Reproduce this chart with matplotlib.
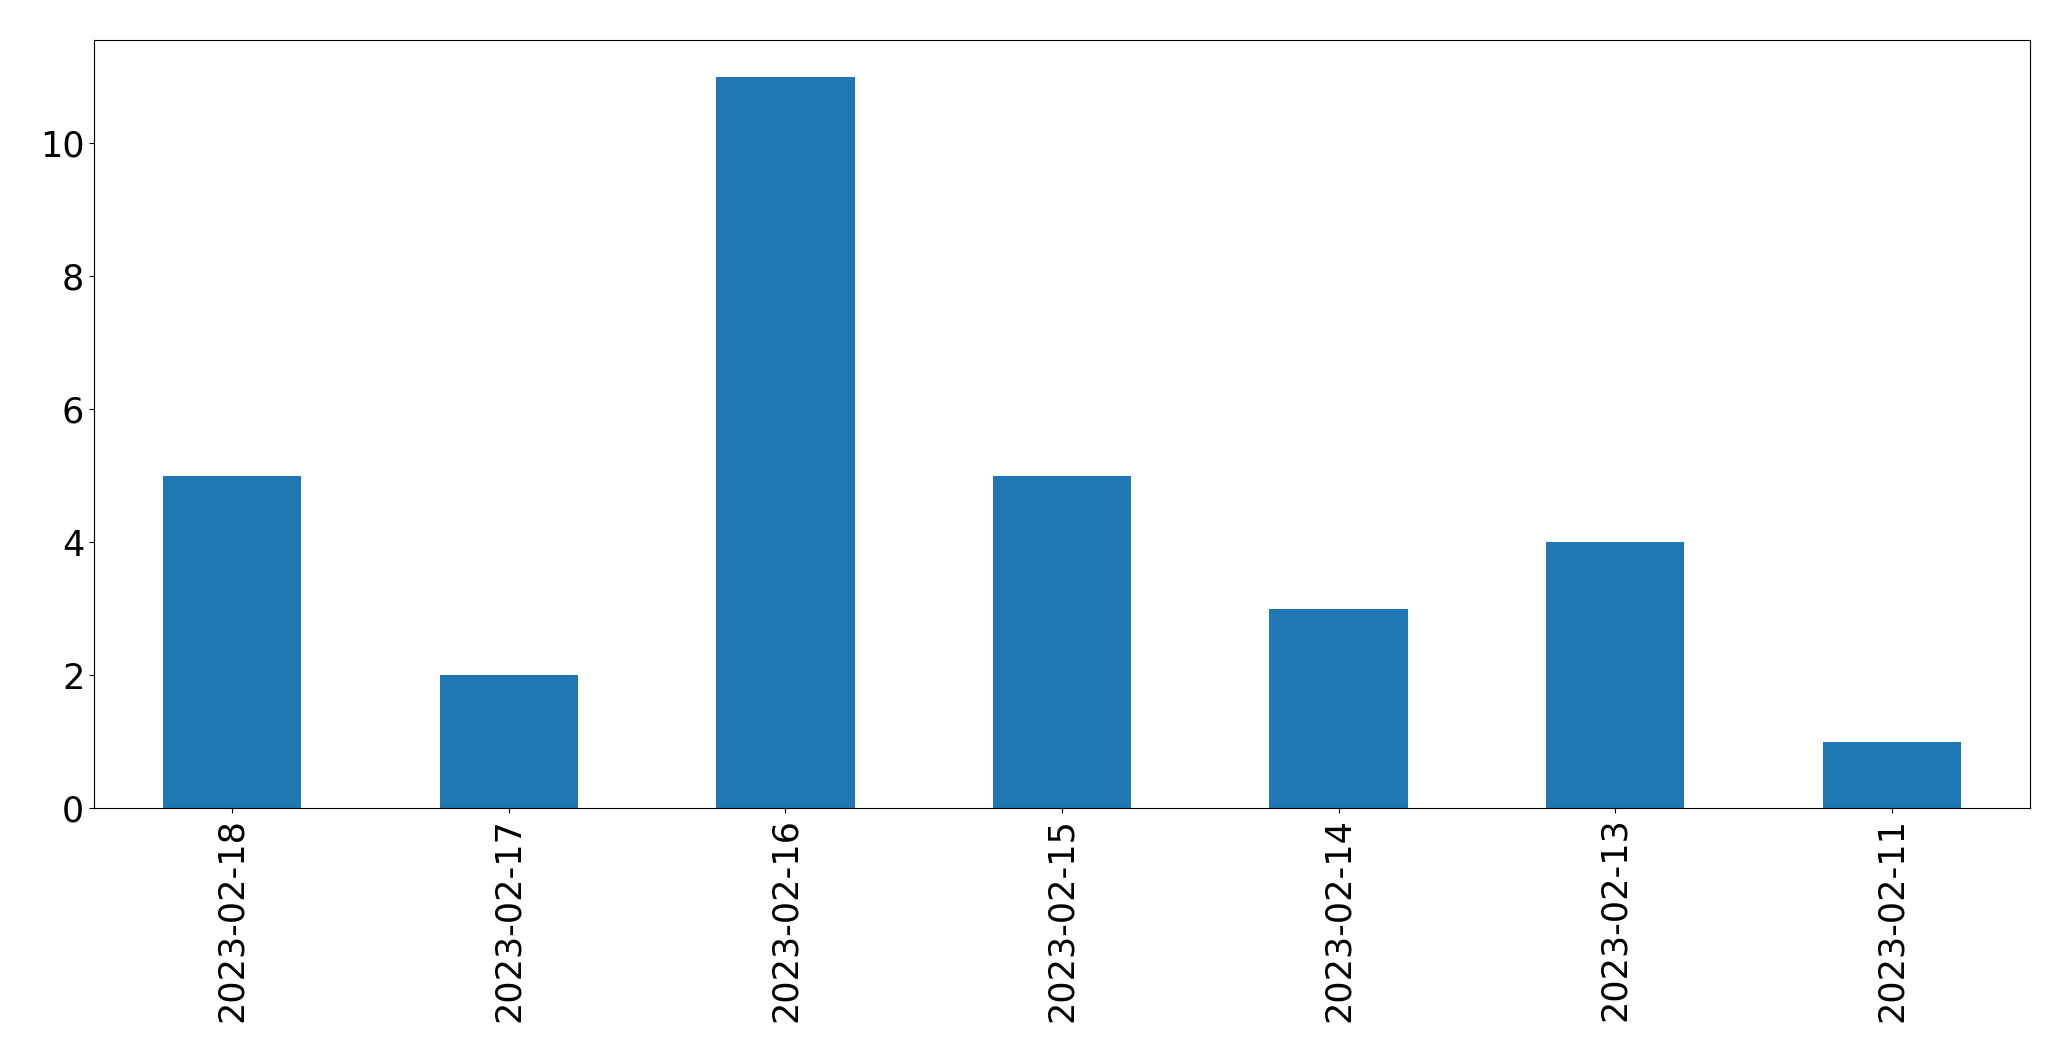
import matplotlib
matplotlib.use("Agg")
import matplotlib.pyplot as plt
import numpy as np

# daily counts, in the order they appear on the x axis
dates = ["2023-02-18", "2023-02-17", "2023-02-16", "2023-02-15",
         "2023-02-14", "2023-02-13", "2023-02-11"]
counts = [5, 2, 11, 5, 3, 4, 1]

fig = plt.figure(figsize=(20.71, 10.61), dpi=100)
ax = fig.add_axes([94/2071, 1 - 808/1061, (2030-94)/2071, (808-40)/1061])

x = np.arange(len(dates))
ax.bar(x, counts, width=0.5, color="#1f77b4")
ax.set_xlim(-0.5, len(dates) - 0.5)
ax.set_ylim(0, max(counts) * 1.05)
ax.set_xticks(x)
ax.set_xticklabels(dates, rotation=90)
ax.set_yticks([0, 2, 4, 6, 8, 10])
ax.tick_params(axis="both", labelsize=25.2)

fig.savefig("out.png", dpi=100)
